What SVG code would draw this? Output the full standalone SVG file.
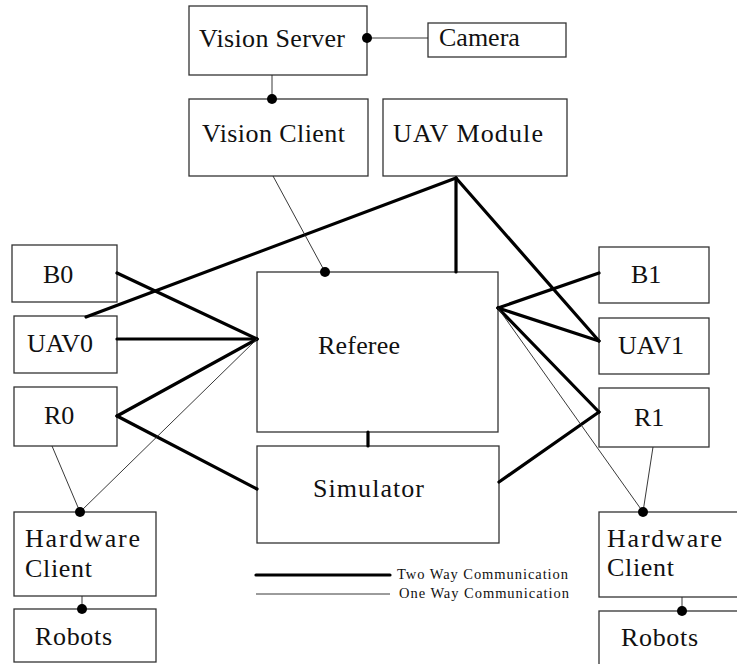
<svg xmlns="http://www.w3.org/2000/svg" width="737" height="664" viewBox="0 0 737 664">
  <style>
    .box { fill: #fff; stroke: #333; stroke-width: 1.3; }
    .lbl { font-family: "Liberation Serif", "Times New Roman", serif; font-size: 26px; fill: #111; }
    .leg { font-family: "Liberation Serif", "Times New Roman", serif; font-size: 14.5px; fill: #111; }
    .thick { stroke: #000; stroke-width: 3.2; fill: none; stroke-linecap: round; }
    .thin { stroke: #222; stroke-width: 0.9; fill: none; }
    .dot { fill: #000; }
  </style>
  <rect width="737" height="664" fill="#fff"/>

  <!-- nodes -->
  <g id="vision-server"><rect class="box" x="189" y="6" width="178" height="69"/><text class="lbl" x="199" y="47" textLength="146">Vision Server</text></g>
  <g id="camera"><rect class="box" x="428" y="23" width="138" height="34"/><text class="lbl" x="439" y="46">Camera</text></g>
  <g id="vision-client"><rect class="box" x="189" y="99" width="179" height="77"/><text class="lbl" x="202" y="142" textLength="143">Vision Client</text></g>
  <g id="uav-module"><rect class="box" x="383" y="99" width="184" height="77"/><text class="lbl" x="393" y="142" textLength="150">UAV Module</text></g>
  <g id="b0"><rect class="box" x="12" y="245" width="105" height="57"/><text class="lbl" x="43" y="283">B0</text></g>
  <g id="uav0"><rect class="box" x="14" y="316" width="103" height="57"/><text class="lbl" x="27" y="352">UAV0</text></g>
  <g id="r0"><rect class="box" x="14" y="387" width="103" height="59"/><text class="lbl" x="44" y="424">R0</text></g>
  <g id="referee"><rect class="box" x="257" y="272" width="241" height="160"/><text class="lbl" x="318" y="354" textLength="82">Referee</text></g>
  <g id="simulator"><rect class="box" x="257" y="446" width="242" height="97"/><text class="lbl" x="313" y="497" textLength="111">Simulator</text></g>
  <g id="b1"><rect class="box" x="599" y="247" width="110" height="56"/><text class="lbl" x="631" y="283">B1</text></g>
  <g id="uav1"><rect class="box" x="599" y="318" width="110" height="56"/><text class="lbl" x="618" y="354">UAV1</text></g>
  <g id="r1"><rect class="box" x="599" y="388" width="110" height="59"/><text class="lbl" x="634" y="426">R1</text></g>
  <g id="hardware-client-0"><rect class="box" x="14" y="512" width="142" height="84"/><text class="lbl" x="25" y="547" textLength="115">Hardware</text><text class="lbl" x="25" y="577" textLength="67">Client</text></g>
  <g id="robots-0"><rect class="box" x="14" y="609" width="142" height="53"/><text class="lbl" x="35" y="645" textLength="77">Robots</text></g>
  <g id="hardware-client-1"><rect class="box" x="599" y="512" width="145" height="85"/><text class="lbl" x="607" y="547" textLength="115">Hardware</text><text class="lbl" x="607" y="576" textLength="67">Client</text></g>
  <g id="robots-1"><rect class="box" x="599" y="611" width="145" height="60"/><text class="lbl" x="621" y="646" textLength="77">Robots</text></g>

  <!-- connectors -->
  <g id="connectors">
    <!-- two way links -->
    <line class="thick" x1="117" y1="273" x2="257" y2="339"/>
    <line class="thick" x1="117" y1="339" x2="257" y2="339"/>
    <line class="thick" x1="117" y1="416" x2="257" y2="339"/>
    <line class="thick" x1="117" y1="416" x2="257" y2="489"/>
    <line class="thick" x1="86" y1="317" x2="456" y2="178"/>
    <line class="thick" x1="456" y1="178" x2="456" y2="272"/>
    <line class="thick" x1="456" y1="178" x2="599" y2="341"/>
    <line class="thick" x1="498" y1="308" x2="599" y2="273"/>
    <line class="thick" x1="498" y1="308" x2="599" y2="341"/>
    <line class="thick" x1="498" y1="308" x2="599" y2="412"/>
    <line class="thick" x1="499" y1="482" x2="599" y2="412"/>
    <line class="thick" x1="368" y1="432" x2="368" y2="446" stroke-linecap="butt"/>
    <!-- one way links -->
    <line class="thin" x1="367" y1="38" x2="428" y2="38"/>
    <line class="thin" x1="272" y1="75" x2="272" y2="99"/>
    <line class="thin" x1="273" y1="176" x2="325" y2="272"/>
    <line class="thin" x1="52" y1="446" x2="80" y2="512"/>
    <line class="thin" x1="257" y1="339" x2="80" y2="512"/>
    <line class="thin" x1="498" y1="308" x2="643" y2="512"/>
    <line class="thin" x1="653" y1="447" x2="643" y2="512"/>
    <line class="thin" x1="82" y1="596" x2="82" y2="609"/>
    <line class="thin" x1="682" y1="597" x2="682" y2="611"/>
    <!-- endpoints -->
    <circle class="dot" cx="367" cy="38" r="5"/>
    <circle class="dot" cx="272" cy="99" r="5"/>
    <circle class="dot" cx="325" cy="272" r="5"/>
    <circle class="dot" cx="80" cy="512" r="5"/>
    <circle class="dot" cx="643" cy="512" r="5"/>
    <circle class="dot" cx="82" cy="609" r="5"/>
    <circle class="dot" cx="682" cy="611" r="5"/>
  </g>

  <!-- legend -->
  <g id="legend">
    <line class="thick" x1="256" y1="575" x2="390" y2="575" stroke-linecap="butt"/>
    <line class="thin" x1="256" y1="594" x2="390" y2="594"/>
    <text class="leg" x="397" y="579" textLength="171" lengthAdjust="spacing">Two Way Communication</text>
    <text class="leg" x="399" y="598" textLength="170" lengthAdjust="spacing">One Way Communication</text>
  </g>
</svg>
